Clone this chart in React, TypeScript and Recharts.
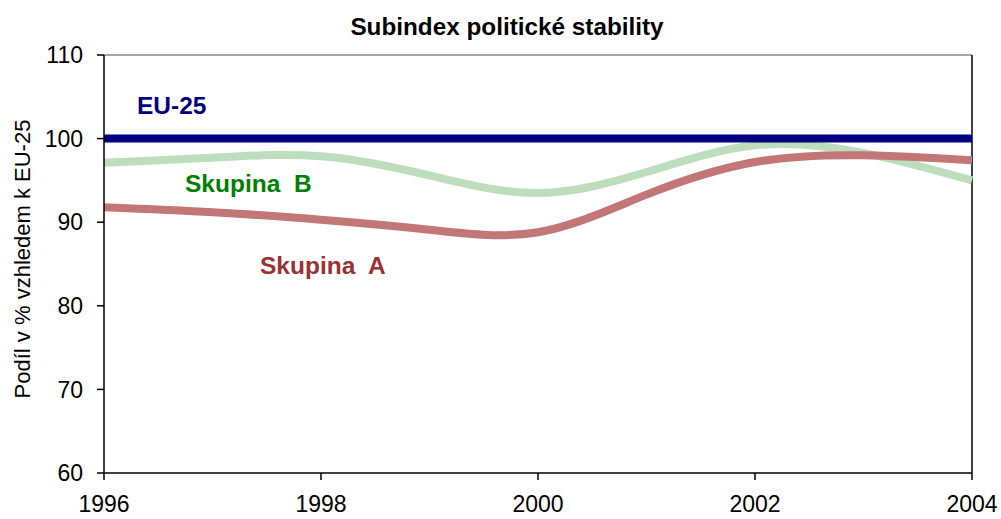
import { LineChart, Line, XAxis, YAxis, ReferenceLine } from 'recharts'

const years = [1996, 1997, 1998, 1999, 2000, 2001, 2002, 2003, 2004]
const eu25 = [100, 100, 100, 100, 100, 100, 100, 100, 100]
const skupinaA = [91.8, 91.2, 90.3, 89.1, 88.8, 93.3, 97.2, 98.0, 97.4]
const skupinaB = [97.1, 97.7, 97.9, 95.6, 93.5, 96.0, 99.2, 98.3, 95.0]
const xTicks = [1996, 1998, 2000, 2002, 2004]
const yTicks = [60, 70, 80, 90, 100, 110]

interface Row {
  year: number
  eu25: number
  a: number
  b: number
}

const data: Row[] = years.map((year, i) => ({
  year,
  eu25: eu25[i],
  a: skupinaA[i],
  b: skupinaB[i],
}))

const font = 'Arial, "Liberation Sans", sans-serif'
const tick = { fill: '#000', fontSize: 23, fontFamily: font }

function SeriesLabel({ x, y, color, text }: { x: number; y: number; color: string; text: string }) {
  return (
    <div
      style={{
        position: 'absolute',
        left: x,
        top: y,
        color,
        fontFamily: font,
        fontWeight: 'bold',
        fontSize: 24.5,
        whiteSpace: 'pre',
        lineHeight: '28px',
      }}
    >
      {text}
    </div>
  )
}

export default function App() {
  return (
    <div style={{ position: 'absolute', left: 0, top: 0, width: 1001, height: 519, background: '#fff' }}>
      <LineChart
        width={1001}
        height={519}
        data={data}
        margin={{ top: 55, right: 29, bottom: 0, left: 0 }}
      >
        <XAxis
          dataKey="year"
          type="number"
          domain={[1996, 2004]}
          ticks={xTicks}
          height={46}
          tickSize={7}
          tickMargin={16}
          tick={tick}
          stroke="#000"
          strokeWidth={1.5}
        />
        <YAxis
          type="number"
          domain={[60, 110]}
          ticks={yTicks}
          width={104}
          tickSize={7}
          tickMargin={14}
          tick={tick}
          stroke="#000"
          strokeWidth={1.5}
        />
        <ReferenceLine y={110} stroke="#888" strokeWidth={1.5} />
        <ReferenceLine x={2004} stroke="#000" strokeWidth={1.5} />
        <Line
          type="natural"
          dataKey="b"
          stroke="#bcdebc"
          strokeWidth={8}
          dot={false}
          isAnimationActive={false}
        />
        <Line
          type="natural"
          dataKey="a"
          stroke="#c27676"
          strokeWidth={8}
          dot={false}
          isAnimationActive={false}
        />
        <Line
          type="linear"
          dataKey="eu25"
          stroke="#000080"
          strokeWidth={8}
          dot={false}
          isAnimationActive={false}
        />
      </LineChart>
      <div
        style={{
          position: 'absolute',
          left: 0,
          width: 1014,
          top: 13,
          textAlign: 'center',
          fontFamily: font,
          fontWeight: 'bold',
          fontSize: 24.3,
          lineHeight: '28px',
        }}
      >
        Subindex politické stability
      </div>
      <div
        style={{
          position: 'absolute',
          left: 23,
          top: 259,
          transform: 'translate(-50%, -50%) rotate(-90deg)',
          whiteSpace: 'nowrap',
          fontFamily: font,
          fontSize: 22,
        }}
      >
        Podíl v % vzhledem k EU-25
      </div>
      <SeriesLabel x={137} y={92} color="#000080" text="EU-25" />
      <SeriesLabel x={185} y={170} color="#008000" text="Skupina  B" />
      <SeriesLabel x={260} y={252} color="#993333" text="Skupina  A" />
    </div>
  )
}
